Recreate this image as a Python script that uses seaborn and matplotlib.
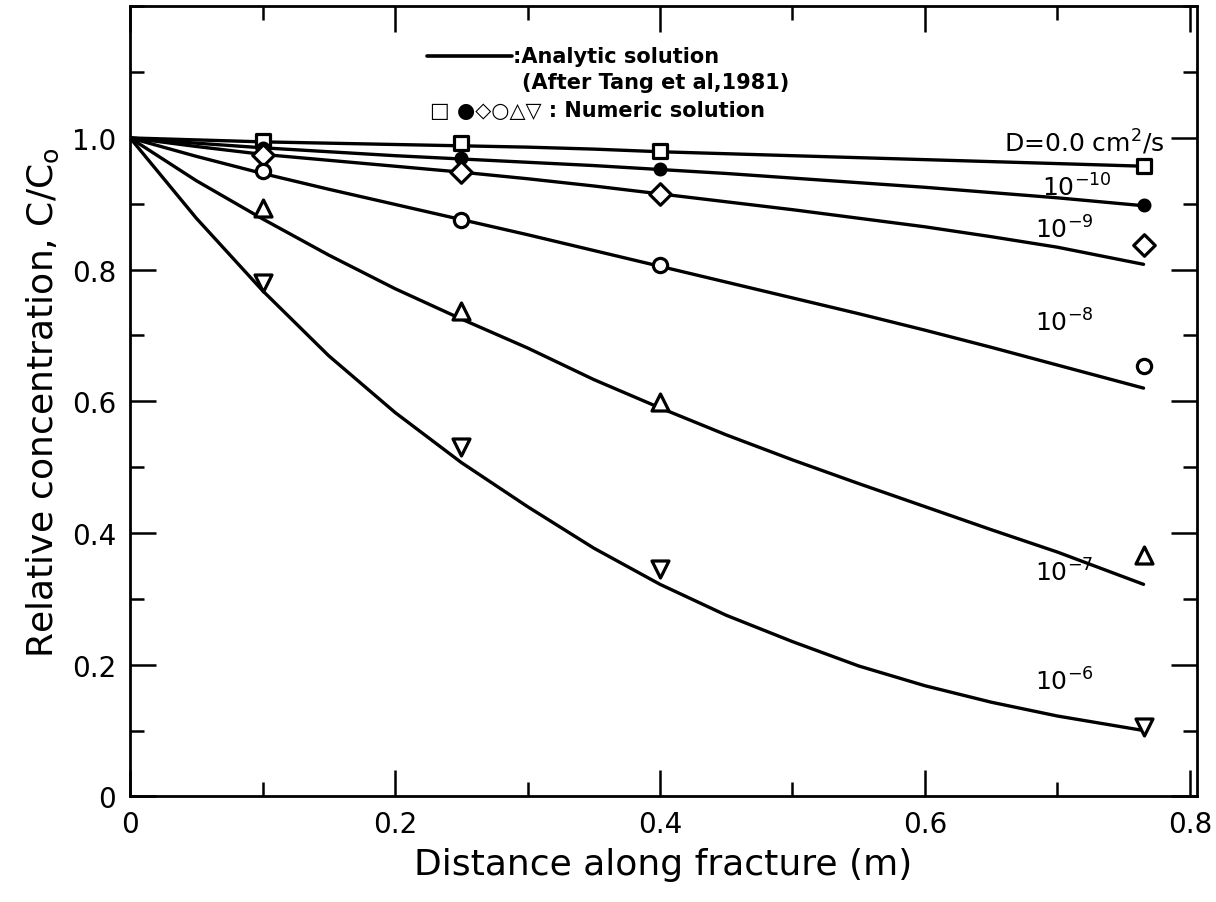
import numpy as np
import pandas as pd
import matplotlib
matplotlib.use("Agg")
import matplotlib.pyplot as plt
import seaborn as sns
from matplotlib.ticker import MultipleLocator, FuncFormatter

# Analytic solution curves
x_curve = [0.0, 0.05, 0.1, 0.15, 0.2, 0.25, 0.3, 0.35, 0.4, 0.45, 0.5, 0.55, 0.6, 0.65, 0.7, 0.765]
c_d0 = [1.0, 0.997, 0.994, 0.992, 0.990, 0.988, 0.986, 0.983, 0.979, 0.976, 0.973, 0.970,
        0.967, 0.964, 0.961, 0.957]
c_d10 = [1.0, 0.992, 0.985, 0.979, 0.973, 0.968, 0.963, 0.958, 0.952, 0.946, 0.939, 0.932,
         0.925, 0.917, 0.909, 0.897]
c_d9 = [1.0, 0.987, 0.975, 0.966, 0.957, 0.948, 0.938, 0.927, 0.915, 0.903, 0.891, 0.878,
        0.865, 0.850, 0.834, 0.808]
c_d8 = [1.0, 0.972, 0.946, 0.922, 0.899, 0.876, 0.853, 0.829, 0.805, 0.781, 0.757, 0.733,
        0.708, 0.682, 0.655, 0.620]
c_d7 = [1.0, 0.935, 0.877, 0.822, 0.771, 0.725, 0.681, 0.633, 0.590, 0.549, 0.511, 0.475,
        0.440, 0.405, 0.371, 0.322]
c_d6 = [1.0, 0.878, 0.768, 0.669, 0.583, 0.507, 0.440, 0.377, 0.322, 0.275, 0.235, 0.198,
        0.168, 0.143, 0.122, 0.100]

# Numeric solution points
x_num = [0.1, 0.25, 0.4, 0.765]
n_d0 = [0.995, 0.993, 0.980, 0.957]
n_d10 = [0.984, 0.970, 0.953, 0.898]
n_d9 = [0.974, 0.948, 0.915, 0.837]
n_d8 = [0.949, 0.875, 0.807, 0.653]
n_d7 = [0.894, 0.737, 0.599, 0.366]
n_d6 = [0.780, 0.530, 0.345, 0.105]

labels = ["D=0.0 cm$^2$/s", "10$^{-10}$", "10$^{-9}$", "10$^{-8}$", "10$^{-7}$", "10$^{-6}$"]
label_x = [0.66, 0.715, 0.705, 0.705, 0.705, 0.705]
label_y = [0.995, 0.925, 0.862, 0.720, 0.340, 0.175]

curves = [c_d0, c_d10, c_d9, c_d8, c_d7, c_d6]
numeric = [n_d0, n_d10, n_d9, n_d8, n_d7, n_d6]
markers = ["s", "o", "D", "o", "^", "v"]
msizes = [110, 60, 120, 105, 150, 150]
faces = ["white", "black", "white", "white", "white", "white"]

sns.set_style("ticks")
plt.rcParams["font.family"] = ["DejaVu Sans"]
plt.rcParams["text.color"] = "black"
plt.rcParams["axes.labelcolor"] = "black"
plt.rcParams["xtick.color"] = "black"
plt.rcParams["ytick.color"] = "black"

fig = plt.figure(figsize=(12.16, 9.03), dpi=100)
ax = fig.add_axes([0.107, 0.117, 0.877, 0.875])

for cv in curves:
    sns.lineplot(x=x_curve, y=cv, ax=ax, color="black", linewidth=2.4)

for nv, mk, ms, fc in zip(numeric, markers, msizes, faces):
    sns.scatterplot(x=x_num, y=nv, ax=ax, marker=mk, s=ms, facecolor=fc,
                    edgecolor="black", linewidth=2.3, zorder=5)

for lab, lx, ly in zip(labels, label_x, label_y):
    ha = "left" if lab.startswith("D") else "center"
    ax.text(lx, ly, lab, fontsize=18, ha=ha, va="center")

# legend block at top
ax.plot([0.224, 0.288], [1.125, 1.125], color="black", linewidth=2.6)
ax.text(0.289, 1.125, ":Analytic solution", fontsize=15, fontweight="bold", va="center")
ax.text(0.296, 1.085, "(After Tang et al,1981)", fontsize=15, fontweight="bold", va="center")
ax.text(0.226, 1.043, "□ ●◇○△▽ : Numeric solution", fontsize=15, fontweight="bold", va="center")

ax.set_xlim(0, 0.805)
ax.set_ylim(0, 1.2)
ax.xaxis.set_major_locator(MultipleLocator(0.2))
ax.xaxis.set_minor_locator(MultipleLocator(0.1))
ax.set_yticks([0, 0.2, 0.4, 0.6, 0.8, 1.0])
ax.yaxis.set_minor_locator(MultipleLocator(0.1))
fmt = FuncFormatter(lambda v, p: "0" if abs(v) < 1e-9 else f"{v:.1f}")
ax.xaxis.set_major_formatter(fmt)
ax.yaxis.set_major_formatter(fmt)
ax.tick_params(which="both", direction="in", top=True, right=True, width=1.8,
               labelsize=20, pad=10)
ax.tick_params(which="major", length=19)
ax.tick_params(which="minor", length=10)
for sp in ax.spines.values():
    sp.set_linewidth(2)
    sp.set_color("black")

ax.set_xlabel("Distance along fracture (m)", fontsize=26, labelpad=6)
ax.set_ylabel("Relative concentration, C/C$_\\mathregular{o}$", fontsize=26, labelpad=8)

fig.savefig("out.png", dpi=100)
